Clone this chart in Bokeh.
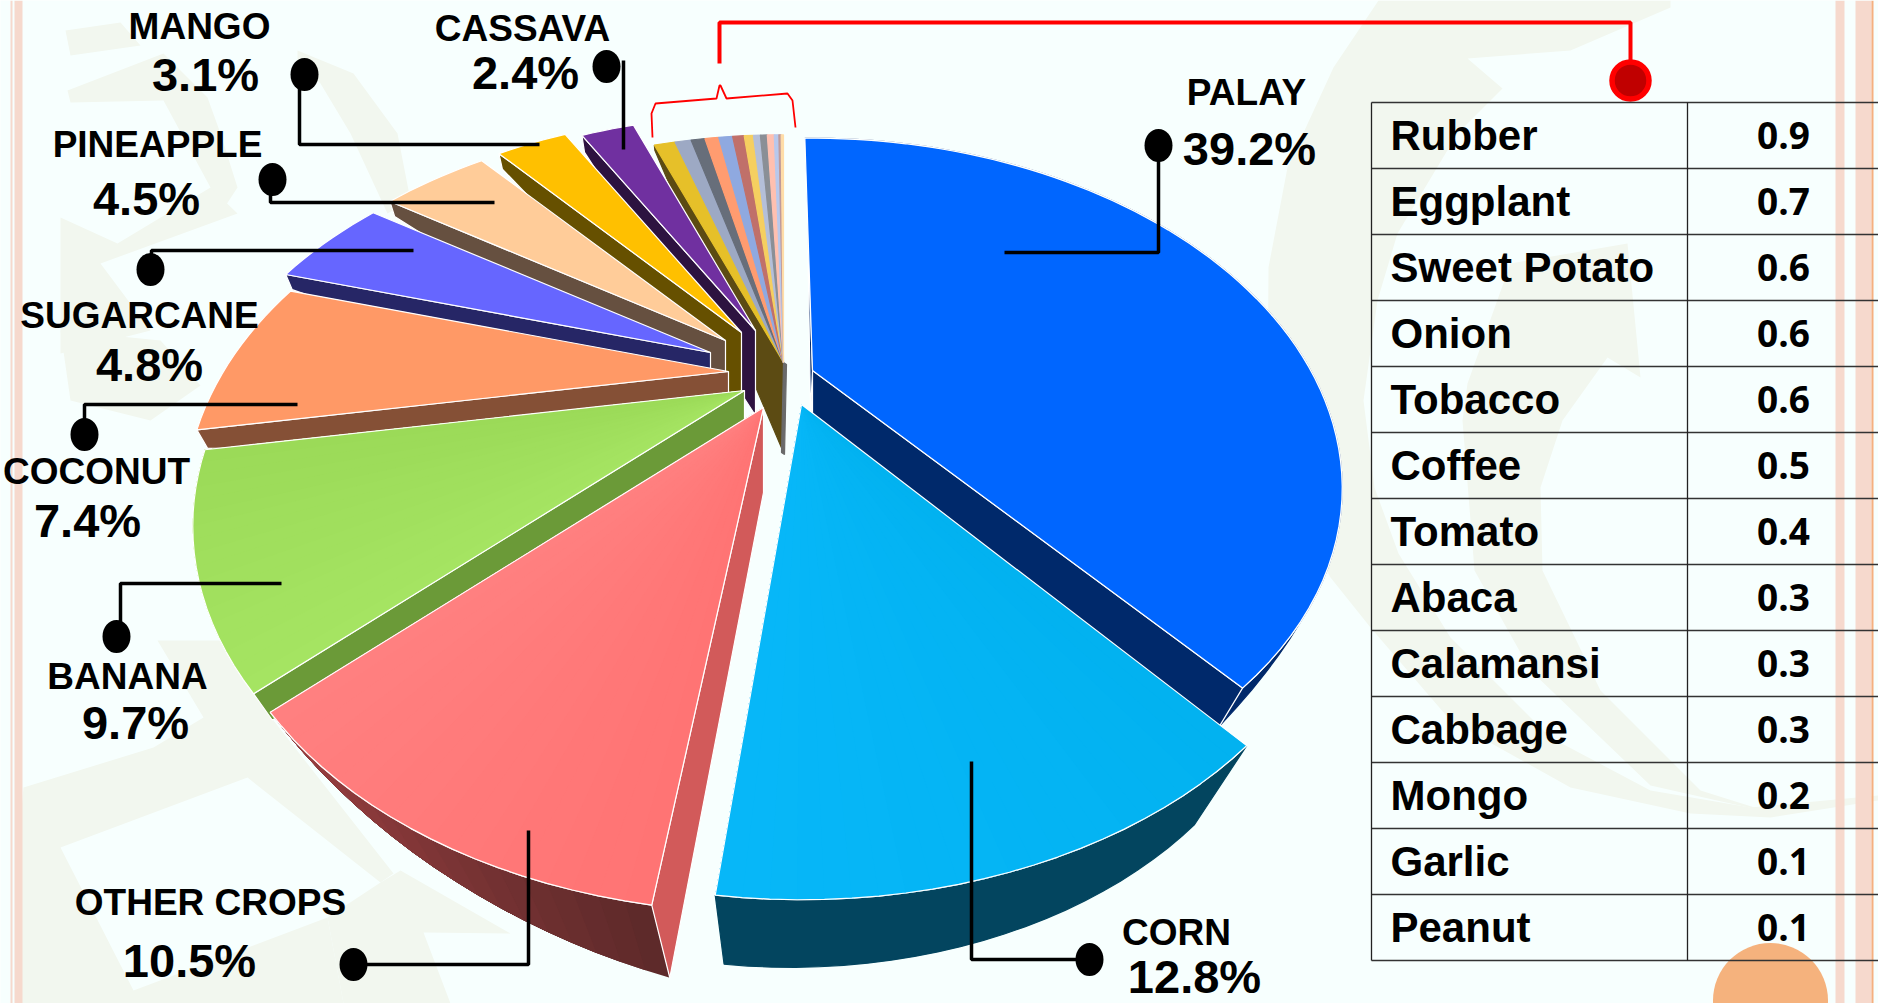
import math
from bokeh.plotting import figure
from bokeh.models import Range1d
from bokeh.core.properties import value
from bokeh.embed import file_html
from bokeh.resources import INLINE

# ---- data ----
crops = ["PALAY", "CORN", "OTHER CROPS", "BANANA", "COCONUT", "SUGARCANE", "PINEAPPLE", "MANGO", "CASSAVA"]
shares = [39.2, 12.8, 10.5, 9.7, 7.4, 4.8, 4.5, 3.1, 2.4]
minor_crops = ["Rubber", "Eggplant", "Sweet Potato", "Onion", "Tobacco", "Coffee", "Tomato", "Abaca",
               "Calamansi", "Cabbage", "Mongo", "Garlic", "Peanut"]
minor_shares = [0.9, 0.7, 0.6, 0.6, 0.6, 0.5, 0.4, 0.3, 0.3, 0.3, 0.2, 0.1, 0.1]

# ---- style ----
top_from = ["#0066FF", "#02B2F0", "#FF7474", "#A5E462", "#FF9966", "#6666FF", "#FFCC99", "#FFC000", "#7030A0"]
top_to = ["#0066FF", "#07B7F8", "#FF8080", "#9BDA58", "#FF9966", "#6666FF", "#FFCC99", "#FFC000", "#7030A0"]
wall_colors = ["#00296B", None, "#D25A5A", "#6B9A38", "#855036", "#262666", "#665040", "#665000", "#2D1340"]
rim_from = ["#00296B", "#03455F", "#5E2A2A", None, None, None, None, None, None]
rim_to = ["#00296B", "#03455F", "#9E4042", None, None, None, None, None, None]
minor_colors = ["#E6C029", "#9DA9C4", "#676E7A", "#FF9C70", "#8FA9E0", "#C0706A", "#F5CF60", "#B4BFD9",
                "#8A8F96", "#FFC0B0", "#B8C8EC", "#BF9A9A", "#FFDDA8"]
BG = "#F7FFFE"
STRIPE = "#F6D9CD"
TINT = "#F2F7EF"

# ---- projection of the tilted pie (page pixels) ----
A, RY, K = 505.0, 312.0, 0.37
VP = (785.0, 1443.0)
apex = [(812, 370), (801, 404), (763, 407), (744, 390), (728, 371), (710, 352), (725, 340), (741, 332), (755, 330)]
scale_x = [0.99, 1.0, 1.02, 1.015, 1.0, 0.97, 0.965, 0.96, 0.945]
scale_y = [1.02, 1.0, 1.02, 1.015, 1.0, 0.97, 0.965, 0.96, 0.945]
warp = [(21, 20), (0, 0), (0, 0), (0, 0), (0, 0), (0, 0), (0, 0), (0, 0), (0, 0)]
start_trim = [-1.2, 0, 0.7, 0, 0, 0, 0, 0, 0]
end_trim = [-1.5, -1.0, 0, 0, 0, 0, 0, 0, 0]
minor_apex = (783, 362)
wall_t = [0.05, None, 0.135, 0.035, 0.018, 0.013, 0.012, 0.012, 0.013]
rim_t = [(0, 0.05, 12), (0.113, 0.126, 1), (0.135, 0, 1), None, None, None, None, None, None]
APEX_DROP = 85


def rim(c, deg, sx=1.0, sy=1.0):
    t = math.radians(deg)
    s = 1 / (1 + K * math.cos(t))
    return c[0] + A * math.sin(t) * s * sx, c[1] - RY * math.cos(t) * s * sy


def toward(q, t):
    return q[0] + (VP[0] - q[0]) * t, q[1] + (VP[1] - q[1]) * t


def arc(c, d0, d1, sx=1.0, sy=1.0, w=(0, 0)):
    n = max(2, int(abs(d1 - d0) / 2) + 2)
    out = []
    for i in range(n):
        f = i / (n - 1)
        x, y = rim(c, d0 + (d1 - d0) * f, sx, sy)
        out.append((x - w[0] * f ** 4, y - w[1] * f ** 4))
    return out


def lerp(c0, c1, f):
    a = [int(c0[i:i + 2], 16) for i in (1, 3, 5)]
    b = [int(c1[i:i + 2], 16) for i in (1, 3, 5)]
    return "#%02X%02X%02X" % tuple(round(a[i] + (b[i] - a[i]) * f) for i in range(3))


xs, ys, fills, lines, falpha, lalpha = [], [], [], [], [], []


def add(pts, fill, line, fa=1.0, la=1.0):
    xs.append([q[0] for q in pts])
    ys.append([q[1] for q in pts])
    fills.append(fill)
    lines.append(line)
    falpha.append(fa)
    lalpha.append(la)


total = sum(shares) + sum(minor_shares)
edges = [0.0]
for v in shares:
    edges.append(edges[-1] + v / total * 360)
minor_edges = [edges[-1]]
for v in minor_shares:
    minor_edges.append(minor_edges[-1] + v / total * 360)

# minor slices: backmost
rp = rim(minor_apex, minor_edges[0])
add([minor_apex, rp, toward(rp, 0.004), (minor_apex[0], minor_apex[1] + 90)], "#5C4B13", "#5C4B13")
add([minor_apex, (minor_apex[0] + 3, minor_apex[1] + 2), (minor_apex[0] + 1, minor_apex[1] + 92),
     (minor_apex[0] - 2, minor_apex[1] + 90)], "#6A6A6A", "#6A6A6A")
for i in range(len(minor_shares)):
    add([minor_apex] + arc(minor_apex, minor_edges[i], minor_edges[i + 1]), minor_colors[i], minor_colors[i])


def draw_slice(i):
    c = apex[i]
    d0, d1 = edges[i] + start_trim[i], edges[i + 1] + end_trim[i]
    pts = arc(c, d0, d1, scale_x[i], scale_y[i], warp[i])
    n = len(pts)
    if rim_t[i]:
        t0, t1, ex = rim_t[i]
        bot = [toward(pts[j], t0 + (t1 - t0) * (j / (n - 1)) ** ex) for j in range(n)]
        if rim_from[i] == rim_to[i]:
            add(pts + bot[::-1], rim_from[i], rim_from[i])
        else:
            # each band overlaps all later ones, so no seam can show
            for j in range(n - 1):
                col = lerp(rim_from[i], rim_to[i], j / (n - 2))
                add(pts[j:] + bot[j:][::-1], col, col, 1.0, 0.0)
        add(pts, "#FFFFFF", "#FFFFFF", 0.0, 1.0)
    if wall_t[i] is not None:
        rp = pts[-1] if i == 0 else pts[0]
        add([c, rp, toward(rp, wall_t[i]), (c[0], c[1] + APEX_DROP)], wall_colors[i], "#FFFFFF")
    if i == 0:
        add([c, pts[0], (c[0] - 6, c[1] - 215), (c[0] - 2, c[1] + 42)], wall_colors[0], "#FFFFFF")
    if top_from[i] == top_to[i]:
        add([c] + pts, top_from[i], "#FFFFFF")
    else:
        for j in range(n - 1):
            col = lerp(top_from[i], top_to[i], j / max(1, n - 2))
            add([c] + pts[j:], col, col, 1.0, 0.0)
        add([c] + pts, "#FFFFFF", "#FFFFFF", 0.0, 1.0)


for i in [8, 7, 6, 5, 4, 3, 0, 2, 1]:
    draw_slice(i)

p = figure(width=1878, height=1003, x_range=Range1d(0, 1878), y_range=Range1d(1003, 0),
           toolbar_location=None, output_backend="svg", background_fill_color=BG,
           border_fill_color=BG, min_border=0, outline_line_color=None)
p.axis.visible = False
p.grid.visible = False

# faint background swirl
tint_xs = [
    [1378, 1670, 1670, 1570, 1467, 1502, 1457, 1397, 1377, 1363, 1374, 1398, 1450, 1550, 1650, 1750, 1878,
     1878, 1770, 1690, 1570, 1450, 1370, 1330, 1290, 1267, 1268, 1287, 1333],
    [1510, 1627, 1640, 1607, 1562, 1540, 1542, 1600, 1700, 1770, 1650, 1530, 1474, 1462, 1467],
    [65, 120, 140, 70],
    [67, 163, 207, 220, 237, 220, 210, 163, 70],
    [297, 353, 397, 410, 387, 350, 320, 297],
    [60, 117, 210, 237, 100, 150, 60],
    [60, 160, 200, 150, 70],
    [23, 153, 203, 157, 223, 273, 393, 380, 247, 60, 133, 327, 343, 17, 17],
    [380, 400, 510, 423, 450, 343, 327],
]
tint_ys = [
    [0, 0, 7, 50, 58, 88, 133, 233, 300, 400, 487, 553, 637, 737, 790, 807, 795,
     800, 817, 813, 787, 720, 627, 577, 500, 400, 267, 167, 67],
    [263, 243, 377, 357, 420, 487, 570, 690, 790, 812, 785, 670, 570, 420, 383],
    [30, 22, 45, 55],
    [90, 53, 97, 133, 187, 213, 187, 100, 102],
    [50, 73, 133, 200, 213, 133, 83, 60],
    [217, 243, 187, 213, 263, 330, 353],
    [330, 340, 385, 420, 400],
    [787, 747, 717, 640, 640, 720, 873, 882, 777, 847, 990, 917, 1003, 1003, 853],
    [882, 870, 933, 932, 1003, 1003, 917],
]
p.patches(tint_xs, tint_ys, fill_color=TINT, line_color=None)

# page decoration
p.quad(left=[10, 14, 1835, 1855], right=[12, 22, 1844, 1871], top=[0] * 4, bottom=[1003] * 4,
       fill_color=STRIPE, line_color=None)
p.quad(left=[1871], right=[1873], top=[0], bottom=[1003], fill_color="#F5B080", line_color=None)

# circle behind the table
p.ellipse(x=[1770], y=[1000], width=[115], height=[115], fill_color="#F5B27D", line_color=None)

p.patches(xs, ys, fill_color=fills, fill_alpha=falpha, line_color=lines, line_alpha=lalpha, line_width=1.2)

FONT = value("Liberation Sans")
# pie labels
name_x = [1246, 1176, 210, 127, 96, 139, 157, 199, 522]
name_y = [92, 932, 902, 676, 471, 315, 144, 26, 28]
val_x = [1249, 1194, 189, 135, 87, 149, 146, 205, 525]
val_y = [148, 976, 960, 722, 520, 364, 198, 74, 72]
p.text(x=name_x, y=name_y, text=crops, text_font=FONT, text_font_style="bold", text_font_size="37px",
       text_align="center", text_baseline="middle", text_color="#000000")
p.text(x=val_x, y=val_y, text=[f"{v}%" for v in shares], text_font=FONT, text_font_style="bold",
       text_font_size="47px", text_align="center", text_baseline="middle", text_color="#000000")

# leaders
leader_x = [[1158, 1158, 1004], [971, 971, 1089], [353, 528, 528], [120, 120, 281], [84, 84, 297],
            [151, 151, 413], [270, 270, 494], [299, 299, 539], [623, 623]]
leader_y = [[145, 252, 252], [761, 959, 959], [964, 964, 830], [636, 583, 583], [434, 404, 404],
            [269, 250, 250], [179, 202, 202], [74, 144, 144], [60, 149]]
p.multi_line(leader_x, leader_y, line_color="#000000", line_width=3.5)
dot_x = [1158, 1089, 353, 116, 84, 150, 272, 304, 606]
dot_y = [145, 959, 964, 636, 434, 269, 179, 74, 66]
p.ellipse(x=dot_x, y=dot_y, width=[28] * 9, height=[33] * 9, fill_color="#000000", line_color=None)

# red bracket to table
p.line([719, 719, 1630, 1630], [63, 22, 22, 72], line_color="#FF0000", line_width=4)
p.ellipse(x=[1630], y=[80], width=[37], height=[37], fill_color="#C00000", line_color="#FF0000", line_width=5.5)
brace_x = [652, 651, 655, 716, 719, 720, 726, 787, 792, 795]
brace_y = [137, 113, 103, 98, 85, 85, 98, 93, 100, 127]
p.line(brace_x, brace_y, line_color="#FF0000", line_width=1.8)

# table
TOP, ROW = 102, 66
LEFT, DIV, RIGHT = 1371, 1687, 1878
n = len(minor_crops)
hy = [TOP + ROW * i for i in range(n + 1)]
p.multi_line([[LEFT, RIGHT]] * (n + 1), [[y, y] for y in hy], line_color="#333333", line_width=1.5)
p.multi_line([[LEFT, LEFT], [DIV, DIV]], [[TOP, hy[-1]]] * 2, line_color="#222222", line_width=1.3)
p.text(x=[1390] * n, y=[TOP + ROW * (i + 0.5) for i in range(n)], text=minor_crops, text_font=FONT,
       text_font_style="bold", text_font_size="42px", text_baseline="middle", text_color="#000000")
p.text(x=[1783] * n, y=[TOP + ROW * (i + 0.5) for i in range(n)], text=[f"{v}" for v in minor_shares],
       text_font=value("Open Sans"), text_font_style="bold", text_font_size="37px", text_align="center",
       text_baseline="middle", text_color="#000000")

open("out.html", "w").write(file_html(p, INLINE))
